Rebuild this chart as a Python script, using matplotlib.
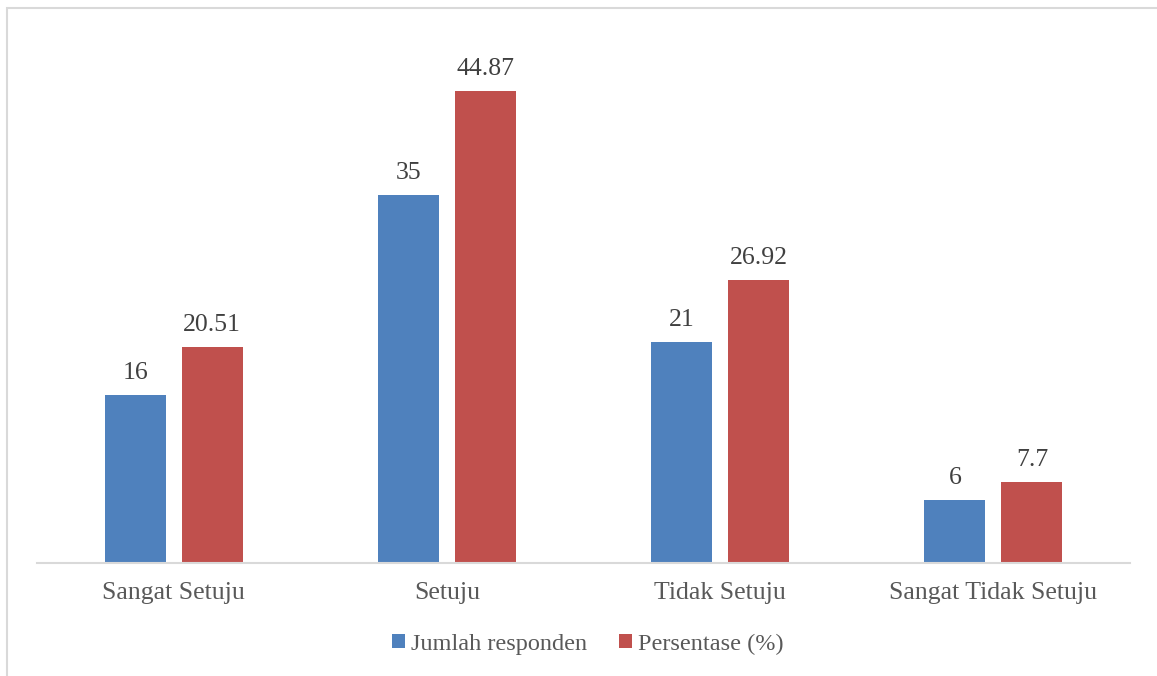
import matplotlib.pyplot as plt
from matplotlib.patches import Rectangle
import numpy as np

kategori = ['Sangat Setuju', 'Setuju', 'Tidak Setuju', 'Sangat Tidak Setuju']
jumlah = [16, 35, 21, 6]
persen = [20.51, 44.87, 26.92, 7.7]
label_jumlah = ['16', '35', '21', '6']
label_persen = ['20.51', '44.87', '26.92', '7.7']

biru = '#4F81BD'
merah = '#C0504D'
abu = '#595959'

plt.rcParams['font.family'] = ['Liberation Serif', 'DejaVu Serif']

fig = plt.figure(figsize=(11.57, 6.76), dpi=100)
W, H = 1157, 676
# area plot dalam piksel
x0, x1, ytop, ybot = 37, 1130, 37, 563
ax = fig.add_axes([x0 / W, 1 - ybot / H, (x1 - x0) / W, (ybot - ytop) / H])

# bingkai grafik
fig.patches.append(Rectangle((7 / W, -0.1), 1.2, 1 - 8 / H + 0.1, transform=fig.transFigure,
                             fill=False, edgecolor='#D9D9D9', linewidth=1.5))

x = np.arange(len(kategori))
lebar = 0.223
geser = 0.141
b1 = ax.bar(x - geser, jumlah, lebar, color=biru, label='Jumlah responden')
b2 = ax.bar(x + geser, persen, lebar, color=merah, label='Persentase (%)')

for bars, labels in ((b1, label_jumlah), (b2, label_persen)):
    for b, t in zip(bars, labels):
        ax.annotate(t, (b.get_x() + b.get_width() / 2, b.get_height()),
                    xytext=(0, 8), textcoords='offset points',
                    ha='center', va='bottom', fontsize=18.5, color='#404040')

ax.set_xlim(-0.5, len(kategori) - 0.5)
ax.set_ylim(0, 50)
ax.set_xticks(x)
ax.set_xticklabels(kategori, fontsize=18.5, color=abu)
ax.tick_params(axis='x', length=0, pad=14)
ax.set_yticks([])
for s in ['top', 'right', 'left']:
    ax.spines[s].set_visible(False)
ax.spines['bottom'].set_color('#D9D9D9')
ax.spines['bottom'].set_linewidth(1.5)

leg = fig.legend(loc='center', bbox_to_anchor=(588 / W, 1 - 644 / H), ncol=2,
                 frameon=False, fontsize=17.5, handlelength=0.55, handleheight=0.55,
                 handletextpad=0.25, columnspacing=1.3)
for t in leg.get_texts():
    t.set_color(abu)

fig.savefig('out.png', dpi=100)
